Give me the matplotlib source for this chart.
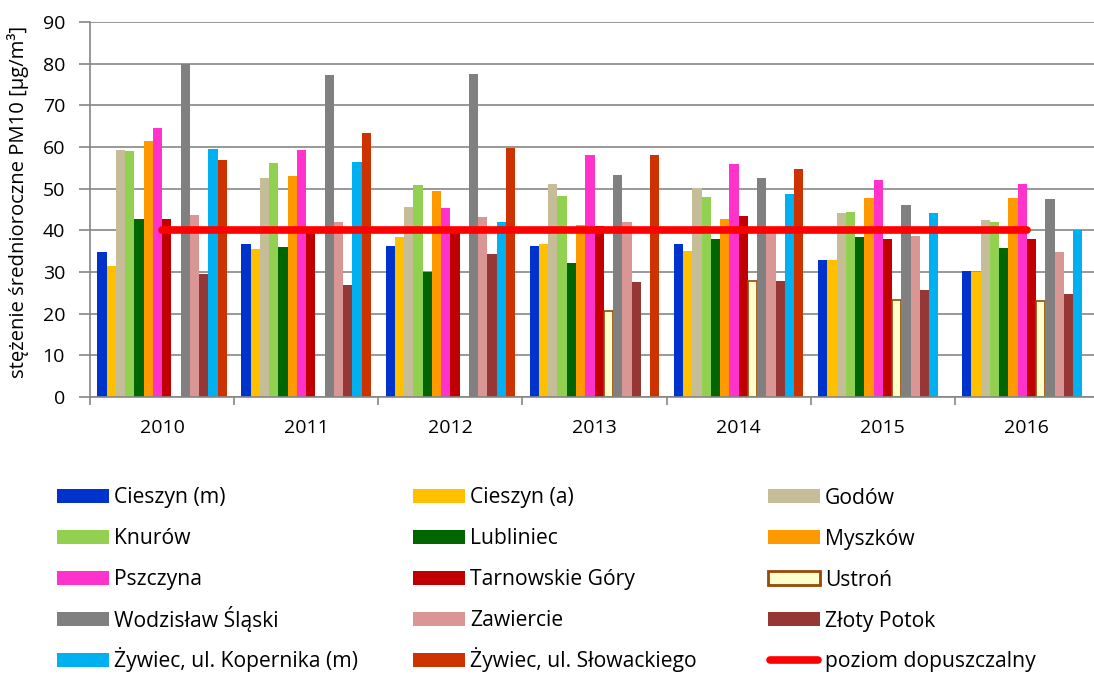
import numpy as np
import matplotlib
matplotlib.use("Agg")
import matplotlib.pyplot as plt
from matplotlib.patches import Rectangle
from matplotlib.lines import Line2D

plt.rcParams['font.family'] = ['Open Sans', 'DejaVu Sans']

nan = np.nan
years = ["2010", "2011", "2012", "2013", "2014", "2015", "2016"]

stations = [
    "Cieszyn (m)", "Cieszyn (a)", "Godów", "Knurów", "Lubliniec", "Myszków",
    "Pszczyna", "Tarnowskie Góry", "Ustroń", "Wodzisław Śląski", "Zawiercie",
    "Złoty Potok", "Żywiec, ul. Kopernika (m)", "Żywiec, ul. Słowackiego",
]

# annual mean PM10 per station, 2010..2016
cieszyn_m = [34.8, 36.8, 36.2, 36.3, 36.7, 33.0, 30.2]
cieszyn_a = [31.4, 35.6, 38.3, 36.6, 35.0, 33.0, 30.1]
godow = [59.2, 52.5, 45.5, 51.1, 50.2, 44.1, 42.4]
knurow = [59.1, 56.2, 50.9, 48.2, 48.0, 44.3, 42.0]
lubliniec = [42.8, 36.0, 30.1, 32.2, 37.8, 38.3, 35.7]
myszkow = [61.5, 53.0, 49.4, 41.2, 42.7, 47.8, 47.8]
pszczyna = [64.5, 59.2, 45.3, 58.0, 55.9, 52.1, 51.0]
tarnowskie = [42.6, 39.6, 39.8, 41.1, 43.5, 37.8, 37.9]
ustron = [nan, nan, nan, 20.6, 27.8, 23.2, 23.1]
wodzislaw = [80.0, 77.2, 77.6, 53.2, 52.5, 46.0, 47.4]
zawiercie = [43.6, 42.0, 43.2, 42.0, 39.7, 38.7, 34.9]
zloty_potok = [29.5, 26.8, 34.2, 27.7, 27.8, 25.8, 24.8]
zywiec_kop = [59.6, 56.3, 42.1, nan, 48.7, 44.1, 40.0]
zywiec_slow = [56.8, 63.3, 59.8, 58.1, 54.8, nan, nan]
poziom = [40, 40, 40, 40, 40, 40, 40]

series = [cieszyn_m, cieszyn_a, godow, knurow, lubliniec, myszkow, pszczyna,
          tarnowskie, ustron, wodzislaw, zawiercie, zloty_potok, zywiec_kop,
          zywiec_slow]
colors = ["#0033CC", "#FFC000", "#C4BD97", "#92D050", "#006600", "#FF9900",
          "#FF33CC", "#C00000", "#FFFFCC", "#808080", "#D99694", "#953735",
          "#00B0F0", "#CC3300"]
edges = {"Ustroń": "#984807"}

grey = "#868686"
W, H = 1094, 675

fig = plt.figure(figsize=(W / 100, H / 100), dpi=100)
ax = fig.add_axes([90 / W, 278 / H, 1009 / W, 375 / H])

x = np.arange(len(years))
n = len(series)
w = 0.0642
for i, (vals, c) in enumerate(zip(series, colors)):
    pos = x - w * n / 2 + w * (i + 0.5)
    ec = edges.get(stations[i])
    if ec:
        ax.bar(pos, vals, width=w, color=c, edgecolor=ec, linewidth=1.2,
               zorder=2)
    else:
        ax.bar(pos, vals, width=w, color=c, linewidth=0, zorder=2)

ax.plot(x, poziom, color="#FF0000", lw=5.5, solid_capstyle="round", zorder=3)

ax.set_xlim(-0.5, 6.5)
ax.set_ylim(0, 90)
ax.set_yticks(range(0, 91, 10))
ax.yaxis.grid(True, color=grey, lw=1.2)
ax.set_axisbelow(True)
ax.set_xticks(np.arange(-0.5, 7, 1))
ax.set_xticklabels([])
ax.set_xticks(x, minor=True)
ax.set_xticklabels(years, minor=True)
ax.tick_params(axis="x", which="major", length=6, color=grey, width=1.2)
ax.tick_params(axis="x", which="minor", length=0, pad=16, labelsize=14)
ax.tick_params(axis="y", length=8, color=grey, width=1.2, pad=10, labelsize=14)
for s in ["top", "right"]:
    ax.spines[s].set_visible(False)
for s in ["left", "bottom"]:
    ax.spines[s].set_color(grey)
    ax.spines[s].set_linewidth(1.2)

ax.set_ylabel("stężenie średnioroczne PM10 [µg/m³]", fontsize=14.6,
              va="center")
ax.yaxis.set_label_coords(-0.071, 0.52)

# legend laid out by hand as a 5x3 table, filled row by row
labels = stations + ["poziom dopuszczalny"]
col_x = [57, 413, 768]
row_y0, row_dy = 496, 41
for k, lab in enumerate(labels):
    r, col = divmod(k, 3)
    hx = col_x[col]
    cy = row_y0 + r * row_dy
    if k < n:
        ec = edges.get(lab)
        fig.add_artist(Rectangle(
            (hx / W, 1 - (cy + 7) / H), 52 / W, 14 / H,
            transform=fig.transFigure, facecolor=colors[k],
            edgecolor=ec if ec else "none", linewidth=2 if ec else 0))
    else:
        fig.add_artist(Line2D(
            [(hx + 2) / W, (hx + 50) / W], [1 - cy / H, 1 - cy / H],
            transform=fig.transFigure, color="#FF0000", lw=5.5,
            solid_capstyle="round"))
    fig.text((hx + 57) / W, 1 - (cy + 7.5) / H, lab, fontsize=15.2,
             va="baseline", ha="left")

fig.savefig("out.png", dpi=100)
